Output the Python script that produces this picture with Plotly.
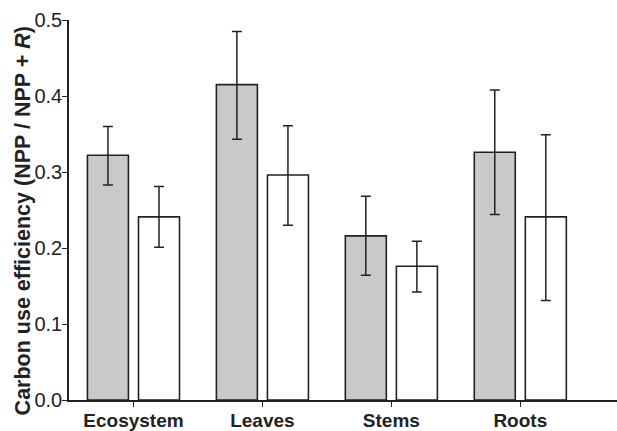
import plotly.graph_objects as go

# Carbon use efficiency by component, two groups (grey / white)
categories = ["Ecosystem", "Leaves", "Stems", "Roots"]

grey_values = [0.322, 0.415, 0.216, 0.326]
grey_err_hi = [0.360, 0.485, 0.268, 0.408]
grey_err_lo = [0.283, 0.343, 0.164, 0.244]

white_values = [0.241, 0.296, 0.176, 0.241]
white_err_hi = [0.281, 0.361, 0.209, 0.349]
white_err_lo = [0.201, 0.230, 0.142, 0.131]

y_ticks = [0.0, 0.1, 0.2, 0.3, 0.4, 0.5]
y_title = "<b>Carbon use efficiency (NPP / NPP + <i>R</i>)</b>"

ink = "#222222"
font_family = "Liberation Sans, Arial, Helvetica, sans-serif"


def err_dict(vals, hi, lo):
    return dict(
        type="data",
        symmetric=False,
        array=[h - v for h, v in zip(hi, vals)],
        arrayminus=[v - l for v, l in zip(vals, lo)],
        color=ink,
        thickness=1.5,
        width=5,
    )


fig = go.Figure()
fig.add_trace(go.Bar(
    x=categories, y=grey_values,
    width=0.318, offset=-0.357,
    marker=dict(color="#c8c9cb", line=dict(color=ink, width=1.6)),
    error_y=err_dict(grey_values, grey_err_hi, grey_err_lo),
    showlegend=False,
))
fig.add_trace(go.Bar(
    x=categories, y=white_values,
    width=0.318, offset=0.039,
    marker=dict(color="#ffffff", line=dict(color=ink, width=1.6)),
    error_y=err_dict(white_values, white_err_hi, white_err_lo),
    showlegend=False,
))

# vertical axis title, placed as a rotated annotation left of the tick labels
fig.add_annotation(
    text=y_title, textangle=-90, showarrow=False,
    xref="paper", yref="paper", x=0, y=0.47,
    xanchor="center", yanchor="middle", xshift=-46,
    font=dict(size=21.5, family=font_family, color=ink),
)

fig.update_layout(
    width=617, height=431,
    margin=dict(l=69, r=0, t=20, b=26),
    plot_bgcolor="white", paper_bgcolor="white",
    font=dict(family=font_family, color=ink),
    barmode="overlay",
    xaxis=dict(
        range=[-0.5, 3.75],
        showline=True, linecolor=ink, linewidth=1.5,
        ticks="outside", ticklen=5, tickwidth=1.2, tickcolor=ink,
        tickfont=dict(size=19, family=font_family, weight="bold", color=ink),
        ticklabelstandoff=-3,
        showgrid=False, zeroline=False,
    ),
    yaxis=dict(
        range=[0, 0.5],
        tickvals=y_ticks,
        ticktext=[f"{v:.1f}" for v in y_ticks],
        showline=True, linecolor=ink, linewidth=1.5,
        ticks="outside", ticklen=5, tickwidth=1.2, tickcolor=ink,
        tickfont=dict(size=20, family=font_family, color=ink),
        ticklabelstandoff=-4,
        showgrid=False, zeroline=False,
    ),
)

fig.write_html("out.html")
